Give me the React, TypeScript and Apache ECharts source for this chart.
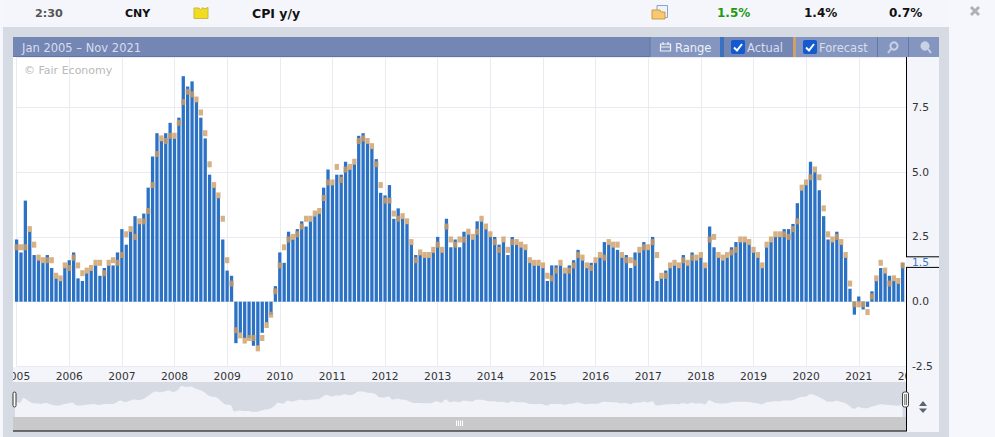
import React, { useEffect, useRef } from "react";
import * as echarts from "echarts";

const years = ["2005","2006","2007","2008","2009","2010","2011","2012","2013","2014","2015","2016","2017","2018","2019","2020","2021","2022"];
const monthNames = ["01","02","03","04","05","06","07","08","09","10","11","12"];
const categories: string[] = [];
for (const y of years) for (const m of monthNames) if (y !== "2022" || m === "01") categories.push(y + "-" + m);

const actual = [
  2.4,1.9,3.9,2.7,1.8,1.6,1.5,1.8,1.3,0.9,0.8,1.3,
  1.6,1.9,0.9,0.8,1.1,1.2,1.4,1.0,1.3,1.4,1.4,1.9,
  2.8,2.2,2.7,3.3,3.0,3.4,4.4,5.6,6.5,6.2,6.5,6.9,
  6.3,7.1,8.7,8.3,8.5,7.7,7.1,6.3,4.9,4.4,4.0,2.4,
  1.2,1.0,-1.6,-1.2,-1.4,-1.4,-1.7,-1.7,-1.2,-0.8,-0.5,0.6,
  1.9,1.5,2.7,2.4,2.8,3.1,2.9,3.1,3.3,3.4,4.4,5.1,
  4.5,4.9,4.9,5.4,5.1,5.3,6.4,6.5,6.1,5.9,5.5,4.2,
  4.1,4.5,3.2,3.6,3.2,3.0,2.2,1.8,1.8,1.7,1.7,1.9,
  2.5,1.9,3.2,2.1,2.4,2.1,2.7,2.6,2.4,3.1,3.1,2.8,
  2.5,2.5,2.2,2.3,1.8,2.5,2.2,2.1,2.0,1.5,1.4,1.4,
  1.3,0.8,1.4,1.4,1.4,1.1,1.4,1.6,2.0,1.6,1.3,1.5,
  1.5,1.7,2.3,2.2,2.1,2.0,1.7,1.8,1.3,1.9,1.9,2.3,
  2.0,2.5,0.8,0.9,1.2,1.3,1.4,1.3,1.8,1.4,1.9,1.6,
  1.7,1.3,2.9,2.1,1.7,1.6,1.7,2.1,2.3,2.3,2.3,2.2,
  1.9,1.7,1.3,2.1,2.3,2.5,2.5,2.8,2.8,3.0,3.8,4.3,
  4.5,5.4,5.0,4.3,3.3,2.4,2.3,2.7,2.2,1.7,0.5,-0.5,
  0.2,-0.3,-0.2,0.4,0.8,1.3,1.1,1.0,0.8,0.7,1.5,null,null,
];
const forecast = [
  2.1,2.1,2.1,2.8,2.2,1.7,1.6,1.6,1.6,1.0,0.9,1.4,
  1.3,1.7,1.4,1.1,1.2,1.3,1.5,1.5,1.1,1.5,1.6,1.5,
  1.8,2.6,2.8,2.5,3.1,3.1,3.5,4.5,5.7,6.3,6.2,6.4,
  6.4,6.9,7.7,8.1,8.0,7.8,7.3,6.5,5.3,4.5,4.1,3.2,
  1.6,0.7,-1.1,-1.3,-1.5,-1.4,-1.4,-1.8,-1.4,-0.9,-0.5,0.4,
  1.4,2.1,2.4,2.5,2.6,2.9,3.2,3.2,3.4,3.5,4.0,4.6,
  4.6,5.2,4.7,5.1,5.2,5.4,6.2,6.3,6.2,6.0,5.3,4.5,
  3.9,3.9,3.4,3.2,3.3,3.1,2.3,1.6,1.9,1.8,1.8,2.0,
  2.2,2.0,2.9,2.4,2.2,2.4,2.4,2.7,2.5,2.7,3.2,2.9,
  2.6,2.3,2.0,2.4,2.0,2.3,2.3,2.2,2.1,1.6,1.5,1.5,
  1.4,1.0,0.9,1.2,1.5,1.2,1.2,1.4,1.8,1.7,1.4,1.3,
  1.6,1.8,1.7,2.3,2.2,2.2,1.8,1.6,1.6,1.5,2.0,2.1,
  2.1,2.3,1.8,1.0,1.0,1.4,1.5,1.4,1.6,1.5,1.7,1.7,
  1.8,1.4,2.4,2.5,1.8,1.7,1.8,1.9,2.0,2.4,2.4,2.3,
  2.0,1.8,1.4,2.2,2.4,2.6,2.6,2.6,2.5,2.8,3.1,4.4,
  4.6,4.8,5.1,4.8,3.6,2.6,2.4,2.5,2.3,1.8,0.7,-0.1,
  -0.1,-0.1,-0.4,0.2,0.9,1.5,1.2,0.7,0.9,0.8,1.4,null,null,
];
const yTicks = { min: -2.5, max: 9.44, step: 2.5 };
const latestTag = "1.5";
const headerTexts = { time: "2:30", currency: "CNY", event: "CPI y/y", actual: "1.5%", forecast: "1.4%", previous: "0.7%" };

const PANEL = "#d5dae3";
const LIGHT = "#f3f5fb";
const BAR = "#2b72c5";
const TAN = "#cd9d68";
const HEAD = "#7386b4";
const BTN = "#8496bf";
const ICON = "#c9d1e4";
const SANS = "'DejaVu Sans', Verdana, sans-serif";

const rect = (x: number, y: number, width: number, height: number, fill: string, z = -1, r = 0) => ({
  type: "rect", silent: true, z, shape: { x, y, width, height, r }, style: { fill },
});
const line = (x1: number, y1: number, x2: number, y2: number, stroke: string, z = 12, lineWidth = 1) => ({
  type: "line", silent: true, z, shape: { x1, y1, x2, y2 }, style: { stroke, lineWidth },
});
const label = (text: string, x: number, y: number, fill: string, font: string, z = 12) => ({
  type: "text", silent: true, z, style: { text, x, y, fill, font, verticalAlign: "middle", align: "left" },
});
const poly = (points: number[][], fill: string, z = 12, stroke?: string) => ({
  type: "polygon", silent: true, z, shape: { points }, style: stroke ? { fill, stroke, lineWidth: 1 } : { fill },
});
const check = (x: number, y: number) => [
  rect(x, y, 14, 14, "#1359cf", 12, 2),
  { type: "polyline", silent: true, z: 13, shape: { points: [[x + 3, y + 7.5], [x + 6, y + 10.5], [x + 11, y + 4]] }, style: { stroke: "#ffffff", lineWidth: 2, fill: "none" } },
];
const lens = (cx: number, cy: number, plus: boolean) => [
  { type: "circle", silent: true, z: 13, shape: { cx, cy, r: 3.6 }, style: { fill: plus ? "none" : ICON, stroke: ICON, lineWidth: 2 } },
  line(cx + (plus ? -3 : 3), cy + 3, cx + (plus ? -6 : 6), cy + 7, ICON, 13, 2),
];

export default function App() {
  const ref = useRef<HTMLDivElement>(null);
  useEffect(() => {
    document.body.style.margin = "0";
    const chart = echarts.init(ref.current!, undefined, { renderer: "svg" });
    const isJan = (i: number) => i % 12 === 0;
    chart.setOption({
      animation: false,
      backgroundColor: "#f5f7fc",
      grid: [
        { left: 15, width: 896.4, top: 57, height: 309.5, containLabel: false },
        { left: 15, width: 896.4, top: 382, height: 35, containLabel: false },
      ],
      xAxis: [
        {
          type: "category", gridIndex: 0, data: categories, boundaryGap: false,
          axisLine: { show: false }, axisTick: { show: false },
          axisLabel: { interval: (i: number) => isJan(i), formatter: (v: string) => v.slice(0, 4), color: "#333333", fontFamily: SANS, fontSize: 10.7, margin: 4, hideOverlap: false, showMinLabel: true, showMaxLabel: true },
          splitLine: { show: true, interval: (i: number) => isJan(i), lineStyle: { color: "#e8ebf0", width: 1 } },
        },
        { type: "category", gridIndex: 1, data: categories, boundaryGap: false, show: false },
      ],
      yAxis: [
        {
          type: "value", gridIndex: 0, position: "left", min: yTicks.min, max: yTicks.max, interval: yTicks.step,
          axisLine: { show: false }, axisTick: { show: false }, axisLabel: { show: false },
          splitLine: { show: true, lineStyle: { color: "#e8ebf0", width: 1 } },
        },
        {
          type: "value", gridIndex: 0, position: "right", min: yTicks.min, max: yTicks.max, interval: yTicks.step, z: 11,
          axisLine: { show: false }, axisTick: { show: false }, splitLine: { show: false },
          axisLabel: { margin: 0.6, color: "#333333", fontFamily: SANS, fontSize: 10.7, showMaxLabel: false, formatter: (v: number) => v.toFixed(1) },
        },
        { type: "value", gridIndex: 1, min: -3.8, max: 10.3, show: false },
      ],
      series: [
        { type: "bar", name: "Actual", xAxisIndex: 0, yAxisIndex: 0, data: actual, barWidth: 3.3, clip: false, silent: true, itemStyle: { color: BAR } },
        { type: "scatter", name: "Forecast", xAxisIndex: 0, yAxisIndex: 0, data: forecast, symbol: "rect", symbolSize: [4.3, 6], clip: false, silent: true, z: 3, itemStyle: { color: TAN } },
        { type: "line", name: "Range", xAxisIndex: 1, yAxisIndex: 2, data: actual, smooth: 0.5, showSymbol: false, silent: true, lineStyle: { width: 0 }, areaStyle: { color: "#f1f3f9", origin: "start", opacity: 1 } },
      ],
      graphic: { elements: [
        rect(3, 0, 946, 27, "#f5f6fb", -2),
        rect(3, 27, 946, 410, PANEL, -2),
        rect(13, 57, 893, 310, "#ffffff", -1),
        rect(13, 367, 893, 15, LIGHT, -1),
        rect(13, 382, 893, 35, PANEL, -1),
        rect(0, 360, 3, 25, "#f5f7fc", 10),
        rect(3, 360, 10, 25, PANEL, 10),
        rect(906, 57, 33, 375, LIGHT, 10),
        rect(939, 57, 10, 375, PANEL, 10),
        rect(13, 417, 893, 14, "#c9c9c9", 10),
        label(headerTexts.time, 35, 13, "#555555", `bold 11.2px ${SANS}`),
        label(headerTexts.currency, 125, 13, "#111111", `bold 11px ${SANS}`),
        label(headerTexts.event, 252, 13, "#111111", `bold 12.5px ${SANS}`),
        poly([[194, 8], [199, 8], [200.5, 9.5], [203, 7.5], [204, 9], [208, 7.5], [208, 18.5], [194, 18.5]], "#f2dc1e", 12, "#c9b84a"),
        { type: "rect", silent: true, z: 12, shape: { x: 657, y: 5.5, width: 10.5, height: 12 }, style: { fill: "#eef2fa", stroke: "#8fa3c4", lineWidth: 1 } },
        poly([[652, 10], [660, 10], [661, 12], [665, 12], [665, 19], [652, 19]], "#f6c873", 13, "#d19a3e"),
        label(headerTexts.actual, 717, 13, "#229a10", `bold 12px ${SANS}`),
        label(headerTexts.forecast, 804, 13, "#111111", `bold 12px ${SANS}`),
        label(headerTexts.previous, 889, 13, "#111111", `bold 12px ${SANS}`),
        line(971, 7, 979, 15, "#aeb2b8", 12, 3),
        line(979, 7, 971, 15, "#aeb2b8", 12, 3),
        rect(13, 37, 926, 20, HEAD, 11),
        line(13, 56.5, 939, 56.5, "#5f75aa", 12),
        label("Jan 2005 \u2013 Nov 2021", 22, 47.5, "#d8deee", `11.5px ${SANS}`),
        rect(650, 37, 70, 20, BTN, 12),
        rect(720, 37, 4, 20, "#3a70bd", 12),
        rect(724, 37, 69, 20, HEAD, 12),
        rect(793, 37, 3, 20, "#d0a068", 12),
        rect(796, 37, 81, 20, BTN, 12),
        rect(878, 37, 30, 20, BTN, 12),
        rect(909, 37, 30, 20, BTN, 12),
        line(650, 37, 650, 57, "#6478a8", 13),
        line(877.5, 37, 877.5, 57, "#6478a8", 13),
        line(908.5, 37, 908.5, 57, "#6478a8", 13),
        { type: "rect", silent: true, z: 13, shape: { x: 660.5, y: 44, width: 10, height: 7 }, style: { fill: "none", stroke: "#eef1f8", lineWidth: 1.2 } },
        line(660.5, 47, 670.5, 47, "#eef1f8", 13, 1),
        line(663, 42, 663, 45, "#eef1f8", 13, 1.2),
        line(668, 42, 668, 45, "#eef1f8", 13, 1.2),
        label("Range", 675, 47.5, "#eef1f8", `11.5px ${SANS}`, 13),
        ...check(731, 40),
        label("Actual", 747, 47.5, "#d8deee", `11.5px ${SANS}`, 13),
        ...check(803, 40),
        label("Forecast", 819, 47.5, "#d8deee", `11.5px ${SANS}`, 13),
        ...lens(894, 46, true),
        ...lens(925, 46, false),
        label("\u00a9 Fair Economy", 24, 70, "#b9b9b9", `11px ${SANS}`, 4),
        line(906.5, 57, 906.5, 257, "#000000"),
        line(906, 256.8, 939, 256.8, "#000000"),
        line(906, 267.4, 939, 267.4, "#000000"),
        line(906.5, 267, 906.5, 431.5, "#000000"),
        label(latestTag, 912, 262.3, "#3a78c8", `10.7px ${SANS}`),
        line(13, 431, 906, 431, "#000000"),
        { type: "rect", silent: true, z: 13, shape: { x: 13, y: 392, width: 3, height: 15, r: 1.5 }, style: { fill: "#ffffff", stroke: "#333333", lineWidth: 1 } },
        { type: "rect", silent: true, z: 13, shape: { x: 902.5, y: 392, width: 6, height: 15, r: 2 }, style: { fill: "#ffffff", stroke: "#444444", lineWidth: 1 } },
        line(904.8, 394, 904.8, 405, "#444444", 14, 0.8),
        line(906.4, 394, 906.4, 405, "#444444", 14, 0.8),
        line(456.5, 420.5, 456.5, 426, "#ffffff", 12),
        line(458.5, 420.5, 458.5, 426, "#ffffff", 12),
        line(460.5, 420.5, 460.5, 426, "#ffffff", 12),
        line(462.5, 420.5, 462.5, 426, "#ffffff", 12),
        poly([[923, 401], [927, 406], [919, 406]], "#5a6470"),
        poly([[919, 408.5], [927, 408.5], [923, 413]], "#5a6470"),
      ] },
    });
    return () => chart.dispose();
  }, []);
  return <div ref={ref} style={{ position: "absolute", left: 0, top: 0, width: 995, height: 437 }} />;
}
